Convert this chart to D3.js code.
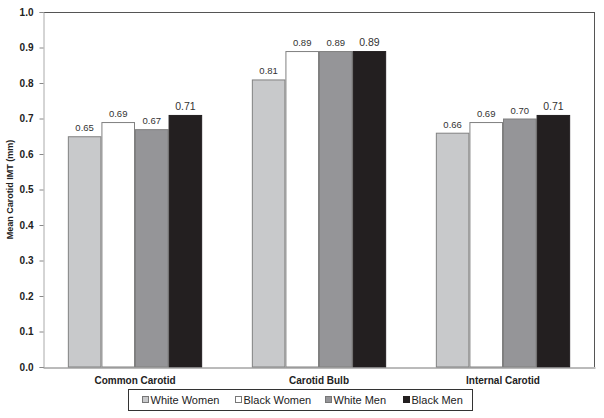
<!DOCTYPE html>
<html><head><meta charset="utf-8">
<script src="https://cdn.jsdelivr.net/npm/d3@7"></script>
<style>body{margin:0;background:#fff;}svg{display:block;font-family:"Liberation Sans",Arial,sans-serif;}</style>
</head><body>
<svg id="c" width="604" height="418"></svg>
<script>
const categories = ["Common Carotid", "Carotid Bulb", "Internal Carotid"];
const seriesNames = ["White Women", "Black Women", "White Men", "Black Men"];
const whiteWomen = [0.65, 0.81, 0.66];
const blackWomen = [0.69, 0.89, 0.69];
const whiteMen = [0.67, 0.89, 0.70];
const blackMen = [0.71, 0.89, 0.71];
const yTicks = [0.0, 0.1, 0.2, 0.3, 0.4, 0.5, 0.6, 0.7, 0.8, 0.9, 1.0];
const colors = ["#c8c9cb", "#ffffff", "#959598", "#231f20"];

const series = [whiteWomen, blackWomen, whiteMen, blackMen];
const svg = d3.select("#c");
const L = 43, R = 595, T = 12, B = 367;

const x0 = d3.scaleBand().domain(categories).range([L, R]).paddingInner(0.27).paddingOuter(0.135);
const x1 = d3.scaleBand().domain(seriesNames).range([0, x0.bandwidth()]);
const y = d3.scaleLinear().domain([0, 1]).range([B, T]);

// plot frame top/right
svg.append("line").attr("x1", L).attr("x2", R).attr("y1", T + 0.5).attr("y2", T + 0.5).attr("stroke", "#555").attr("stroke-width", 1);
svg.append("line").attr("x1", R - 0.5).attr("x2", R - 0.5).attr("y1", T).attr("y2", B).attr("stroke", "#555").attr("stroke-width", 1);

// y axis
const yAxis = d3.axisLeft(y).tickValues(yTicks).tickFormat(d3.format(".1f")).tickSize(4).tickPadding(6);
const ga = svg.append("g").attr("transform", `translate(${L + 0.5},0)`).call(yAxis);
ga.select(".domain").attr("stroke", "#aaa");
ga.selectAll(".tick line").attr("stroke", "#888");
ga.selectAll(".tick text").attr("font-size", 10).attr("font-weight", "bold").attr("fill", "#222")
  .attr("font-family", "Liberation Sans, Arial, sans-serif");

// bars
const groups = svg.append("g").selectAll("g").data(categories).join("g")
  .attr("transform", d => `translate(${x0(d)},0)`);
seriesNames.forEach((s, si) => {
  groups.append("rect")
    .attr("x", (d) => x1(s) + 0.5)
    .attr("y", (d, i) => y(series[si][i]) + 0.5)
    .attr("width", x1.bandwidth() - 1)
    .attr("height", (d, i) => B - y(series[si][i]) - 0.5)
    .attr("fill", colors[si])
    .attr("stroke", si === 3 ? "#231f20" : "#808080")
    .attr("stroke-width", 1);
  groups.append("text")
    .attr("x", x1(s) + x1.bandwidth() / 2)
    .attr("y", (d, i) => y(series[si][i]) - 5)
    .attr("text-anchor", "middle")
    .attr("font-size", si === 3 ? 10.5 : 9.5)
    .attr("fill", "#333")
    .text((d, i) => series[si][i].toFixed(2));
});

// x axis
const xAxis = d3.axisBottom(x0).tickSize(0).tickPadding(9);
const gx = svg.append("g").attr("transform", `translate(0,${B + 0.5})`).call(xAxis);
gx.select(".domain").attr("stroke", "#777");
gx.selectAll(".tick text").attr("font-size", 10).attr("font-weight", "bold").attr("fill", "#222")
  .attr("font-family", "Liberation Sans, Arial, sans-serif");

// y title
svg.append("text").attr("transform", `translate(13,${(T + B) / 2}) rotate(-90)`)
  .attr("text-anchor", "middle").attr("font-size", 9).attr("font-weight", "bold").attr("fill", "#222")
  .text("Mean Carotid IMT (mm)");

// legend
const lg = svg.append("g");
lg.append("rect").attr("x", 128.5).attr("y", 389.5).attr("width", 344).attr("height", 21)
  .attr("fill", "#fff").attr("stroke", "#333").attr("stroke-width", 1);
const legX = [142, 235, 325, 403];
seriesNames.forEach((s, i) => {
  lg.append("rect").attr("x", legX[i] + 0.5).attr("y", 396.5).attr("width", 6).attr("height", 6)
    .attr("fill", colors[i]).attr("stroke", i === 3 ? "#231f20" : "#777");
  lg.append("text").attr("x", legX[i] + 8.5).attr("y", 404).attr("font-size", 11).attr("fill", "#222").text(s);
});
</script>
</body></html>
